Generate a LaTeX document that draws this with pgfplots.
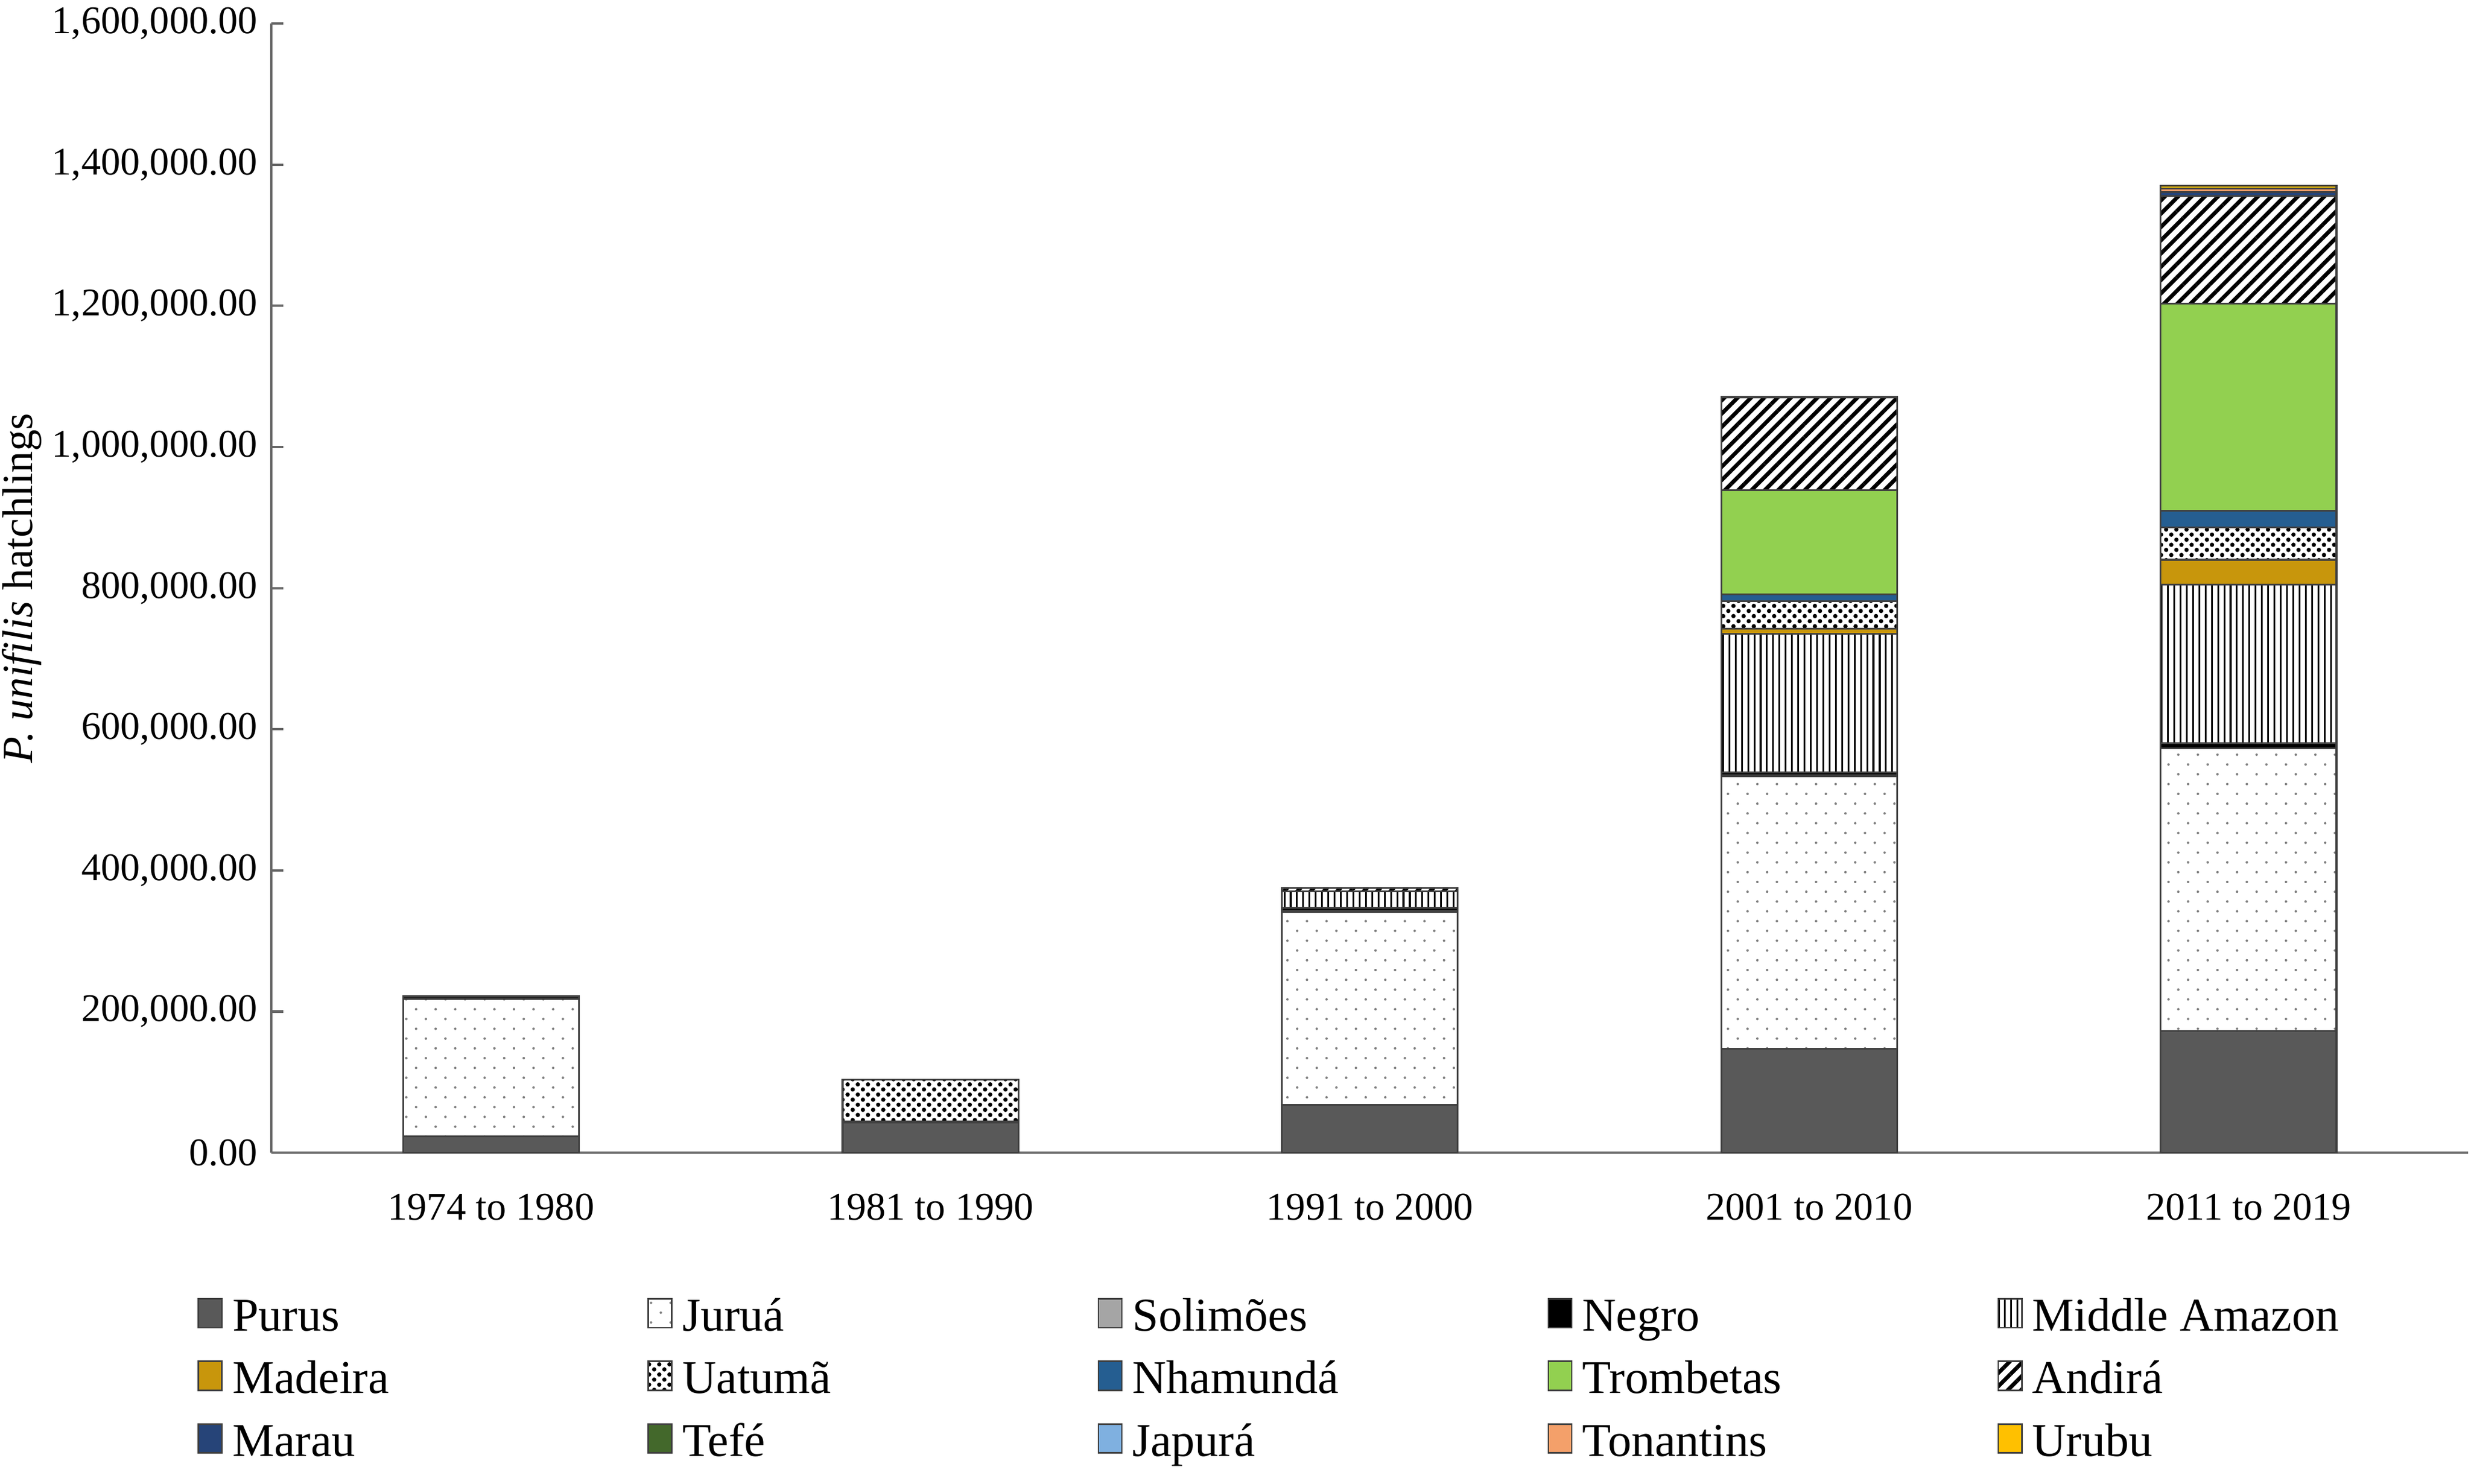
\documentclass[border=0pt]{standalone}
\usepackage{fontspec}
\setmainfont{Liberation Serif}
\usepackage{pgfplots}
\pgfplotsset{compat=1.18}
\usepackage{pgfplotstable}
\usetikzlibrary{patterns,patterns.meta}

\definecolor{cPurus}{HTML}{595959}
\definecolor{cSolimoes}{HTML}{A5A5A5}
\definecolor{cMadeira}{HTML}{C8960C}
\definecolor{cNhamunda}{HTML}{255E91}
\definecolor{cTrombetas}{HTML}{92D050}
\definecolor{cMarau}{HTML}{264478}
\definecolor{cTefe}{HTML}{43682B}
\definecolor{cJapura}{HTML}{7FB0E0}
\definecolor{cTonantins}{HTML}{F4A06A}
\definecolor{cUrubu}{HTML}{FFC000}

\tikzdeclarepattern{
  name=juruadots, type=colored,
  bottom left={(-.1pt,-.1pt)}, top right={(5.1pt,5.1pt)}, tile size={(5pt,5pt)},
  code={\tikzset{x=1pt,y=1pt}\fill[black!50] (1.25,1.25) circle (0.32); \fill[black!50] (3.75,3.75) circle (0.32);}
}
\tikzdeclarepattern{
  name=uatumadots, type=colored,
  bottom left={(-.1pt,-.1pt)}, top right={(2.7pt,2.7pt)}, tile size={(2.6pt,2.6pt)},
  code={\tikzset{x=1pt,y=1pt}\fill[black] (0.65,0.65) circle (0.55); \fill[black] (1.95,1.95) circle (0.55);}
}

\pgfplotstableread{
x Purus Jurua Solimoes Negro MidAm Madeira Uatuma Nhamunda Trombetas Andira Marau Tefe Japura Tonantins Urubu
0 23000 195000 0 3500 0 0 0 0 0 0 0 0 0 0 0
1 43000 0 0 1500 0 0 59000 0 0 0 0 0 0 0 0
2 68000 273000 2000 4000 23000 0 0 0 0 5000 0 0 0 0 0
3 147000 386000 1500 4500 196000 7500 39000 10000 147000 132000 0 0 0 0 0
4 172700 400000 0 7500 225000 35000 46000 23000 294000 152000 6000 0 0 5000 4000
}\datatable

\newcommand{\legtxt}[1]{\makebox[103.5pt][l]{#1}}

\begin{document}
\begin{tikzpicture}
\path[use as bounding box] (0,0) rectangle (631pt,379pt);
\begin{axis}[
  at={(69.3pt,84.6pt)}, anchor=south west,
  scale only axis, width=561pt, height=288.4pt,
  ybar stacked, bar width=0.4,
  xmin=-0.5, xmax=4.5, ymin=0, ymax=1600000,
  xtick={0,1,2,3,4},
  xticklabels={1974 to 1980, 1981 to 1990, 1991 to 2000, 2001 to 2010, 2011 to 2019},
  ytick={0,200000,400000,600000,800000,1000000,1200000,1400000,1600000},
  scaled y ticks=false,
  /pgf/number format/fixed,
  /pgf/number format/fixed zerofill,
  /pgf/number format/precision=2,
  /pgf/number format/1000 sep={,},
  /pgf/number format/assume math mode=true,
  axis x line*=bottom, axis y line*=left,
  axis line style={draw=black!60, line width=0.6pt, -},
  tick align=inside, major tick length=3pt,
  ytick style={draw=black!60, line width=0.6pt},
  xtick style={draw=none},
  tick label style={font=\fontsize{10}{12}\selectfont},
  xticklabel style={yshift=-7pt},
  ylabel={\textit{P. unifilis} hatchlings},
  ylabel style={at={(axis description cs:-0.1135,0.5)}, anchor=center, font=\fontsize{11}{13}\selectfont},
  legend columns=5,
  legend cell align=left,
  legend style={at={(-0.0339,-0.1189)}, anchor=north west, draw=none, inner sep=0pt,
    column sep=0pt, row sep=0pt, font=\fontsize{12}{14}\selectfont,
    nodes={inner xsep=2.5pt, inner ysep=2.5pt, text height=8.5pt, text depth=2.5pt}},
  every axis plot post/.append style={draw=black!75, line width=0.45pt,
    legend image code/.code={\draw[##1, line width=0.4pt] (0pt,-2.2pt) rectangle (6pt,5.2pt);}},
]
\addplot[fill=cPurus] table[x=x,y=Purus]{\datatable};
\addlegendentry{\legtxt{Purus}}
\addplot[pattern=juruadots] table[x=x,y=Jurua]{\datatable};
\addlegendentry{\legtxt{Juruá}}
\addplot[fill=cSolimoes] table[x=x,y=Solimoes]{\datatable};
\addlegendentry{\legtxt{Solimões}}
\addplot[fill=black] table[x=x,y=Negro]{\datatable};
\addlegendentry{\legtxt{Negro}}
\addplot[pattern={Lines[angle=90,distance=1.6pt,line width=0.45pt]}, pattern color=black] table[x=x,y=MidAm]{\datatable};
\addlegendentry{\legtxt{Middle Amazon}}
\addplot[fill=cMadeira] table[x=x,y=Madeira]{\datatable};
\addlegendentry{\legtxt{Madeira}}
\addplot[pattern=uatumadots] table[x=x,y=Uatuma]{\datatable};
\addlegendentry{\legtxt{Uatumã}}
\addplot[fill=cNhamunda] table[x=x,y=Nhamunda]{\datatable};
\addlegendentry{\legtxt{Nhamundá}}
\addplot[fill=cTrombetas] table[x=x,y=Trombetas]{\datatable};
\addlegendentry{\legtxt{Trombetas}}
\addplot[pattern={Lines[angle=45,distance=2.4pt,line width=1pt]}, pattern color=black] table[x=x,y=Andira]{\datatable};
\addlegendentry{\legtxt{Andirá}}
\addplot[fill=cMarau] table[x=x,y=Marau]{\datatable};
\addlegendentry{\legtxt{Marau}}
\addplot[fill=cTefe] table[x=x,y=Tefe]{\datatable};
\addlegendentry{\legtxt{Tefé}}
\addplot[fill=cJapura] table[x=x,y=Japura]{\datatable};
\addlegendentry{\legtxt{Japurá}}
\addplot[fill=cTonantins] table[x=x,y=Tonantins]{\datatable};
\addlegendentry{\legtxt{Tonantins}}
\addplot[fill=cUrubu] table[x=x,y=Urubu]{\datatable};
\addlegendentry{\legtxt{Urubu}}
\end{axis}
\end{tikzpicture}
\end{document}
